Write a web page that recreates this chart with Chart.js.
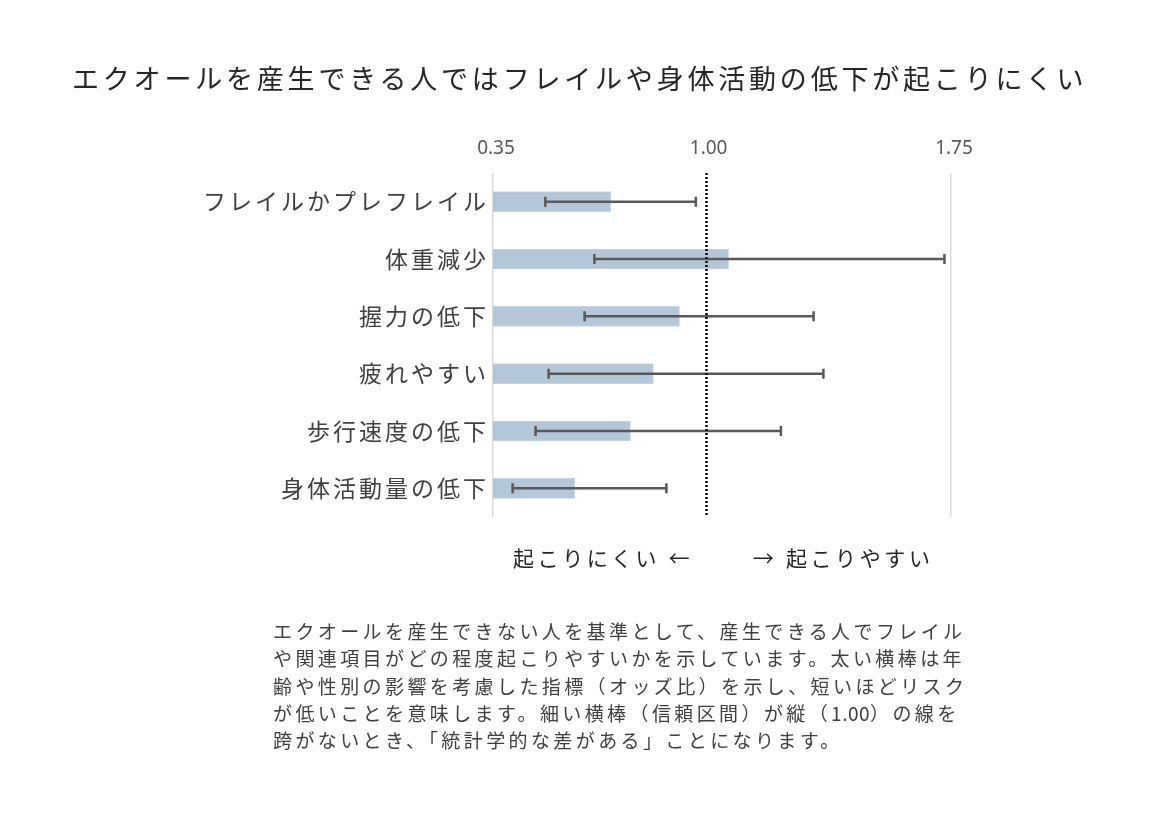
<!DOCTYPE html>
<html lang="ja">
<head>
<meta charset="utf-8">
<script src="https://cdn.jsdelivr.net/npm/chart.js@4"></script>
<style>
  html, body { margin: 0; padding: 0; background: #fff; }
  #wrap { position: relative; width: 1167px; height: 815px; overflow: hidden; font-family: "Noto Sans CJK JP", "Noto Sans", sans-serif; }
  #chart { position: absolute; left: 0; top: 0; }
  .txt { position: absolute; white-space: nowrap; }
  #title { left: 72px; top: 58px; font-size: 27px; letter-spacing: 3.8px; color: #262626; line-height: 40px; }
  .side { top: 541px; font-size: 21px; letter-spacing: 3.6px; color: #262626; line-height: 32px; }
  #note { left: 273px; top: 617px; font-size: 19px; letter-spacing: 3.4px; color: #404040; line-height: 27.3px; }
</style>
</head>
<body>
<div id="wrap">
  <canvas id="chart" width="1167" height="815"></canvas>
  <div id="title" class="txt">エクオールを産生できる人ではフレイルや身体活動の低下が起こりにくい</div>
  <div class="txt side" style="left:513px">起こりにくい ←</div>
  <div class="txt side" style="left:753px">→ 起こりやすい</div>
  <div id="note" class="txt">エクオールを産生できない人を基準として、産生できる人でフレイル<br>や関連項目がどの程度起こりやすいかを示しています。太い横棒は年<br>齢や性別の影響を考慮した指標（オッズ比）を示し、短いほどリスク<br>が低いことを意味します。細い横棒（信頼区間）が縦（<span style="letter-spacing:0.5px">1.00</span>）の線を<br>跨がないとき、「統計学的な差がある」ことになります。</div>
</div>
<script>
// odds ratios
const categories = ['フレイルかプレフレイル', '体重減少', '握力の低下', '疲れやすい', '歩行速度の低下', '身体活動量の低下'];
const oddsRatio = [0.71, 1.07, 0.92, 0.84, 0.77, 0.60];
const ciLow = [0.51, 0.66, 0.63, 0.52, 0.48, 0.41];
const ciHigh = [0.97, 1.73, 1.33, 1.36, 1.23, 0.88];
const tickValues = [0.35, 1.00, 1.75];
const refValue = 1.00;

// whiskers for the confidence intervals
const errorBars = {
    id: 'errorBars',
    afterDatasetsDraw(chart) {
        const { ctx, scales: { x } } = chart;
        const bars = chart.getDatasetMeta(0).data;
        ctx.save();
        ctx.strokeStyle = '#595959'; ctx.lineWidth = 2.5;
        bars.forEach((bar, i) => {
            const lo = x.getPixelForValue(ciLow[i]), hi = x.getPixelForValue(ciHigh[i]);
            ctx.beginPath();
            ctx.moveTo(lo, bar.y); ctx.lineTo(hi, bar.y);
            ctx.moveTo(lo, bar.y - 5); ctx.lineTo(lo, bar.y + 5);
            ctx.moveTo(hi, bar.y - 5); ctx.lineTo(hi, bar.y + 5);
            ctx.stroke();
        });
        ctx.restore();
    },
};

// dotted line at OR = 1.00
const refLine = {
    id: 'refLine',
    afterDatasetsDraw(chart) {
        const { ctx, chartArea: a, scales: { x } } = chart;
        const px = Math.round(x.getPixelForValue(refValue)) + 0.5;
        ctx.save();
        ctx.strokeStyle = '#000'; ctx.lineWidth = 2.5; ctx.setLineDash([2, 2]);
        ctx.beginPath(); ctx.moveTo(px, a.top); ctx.lineTo(px, a.bottom - 2); ctx.stroke();
        ctx.restore();
    },
};

// wider letter spacing for the category labels only
const spacedLabels = {
    id: 'spacedLabels',
    afterLayout(chart) {
        const y = chart.scales.y;
        if (y._spaced) return;
        const orig = y.drawLabels.bind(y);
        y.drawLabels = (area) => { chart.ctx.letterSpacing = '3px'; orig(area); chart.ctx.letterSpacing = '0px'; };
        y._spaced = true;
    },
};

new Chart(document.getElementById('chart'), {
    type: 'bar',
    data: {
        labels: categories,
        datasets: [{
            data: oddsRatio,
            backgroundColor: '#b4c7d9', borderColor: '#c6d5e3', borderWidth: 1, borderSkipped: false,
            barThickness: 20,
        }],
    },
    options: {
        indexAxis: 'y', responsive: false, animation: false,
        layout: { padding: { top: 0, left: 0, right: 216, bottom: 298 } },
        plugins: { legend: { display: false }, tooltip: { enabled: false } },
        scales: {
            x: {
                position: 'top', min: 0.35, max: 1.75,
                afterBuildTicks: (s) => { s.ticks = tickValues.map(v => ({ value: v })); },
                afterFit: (s) => { s.height = 173; },
                grid: { drawTicks: false, lineWidth: 1.5, color: (c) => c.tick && c.tick.value === refValue ? 'rgba(0,0,0,0)' : '#d9d9d9' },
                border: { display: false },
                ticks: { padding: 13, labelOffset: 3, color: '#595959', font: { family: '"Noto Sans", sans-serif', size: 19 }, callback: (v) => Number(v).toFixed(2), maxRotation: 0 },
            },
            y: {
                afterFit: (s) => { s.width = 493; },
                grid: { display: false }, border: { display: false },
                ticks: { padding: -4, color: '#404040', font: { family: '"Noto Sans CJK JP", sans-serif', size: 23 } },
            },
        },
    },
    plugins: [spacedLabels, errorBars, refLine],
});
</script>
</body>
</html>
